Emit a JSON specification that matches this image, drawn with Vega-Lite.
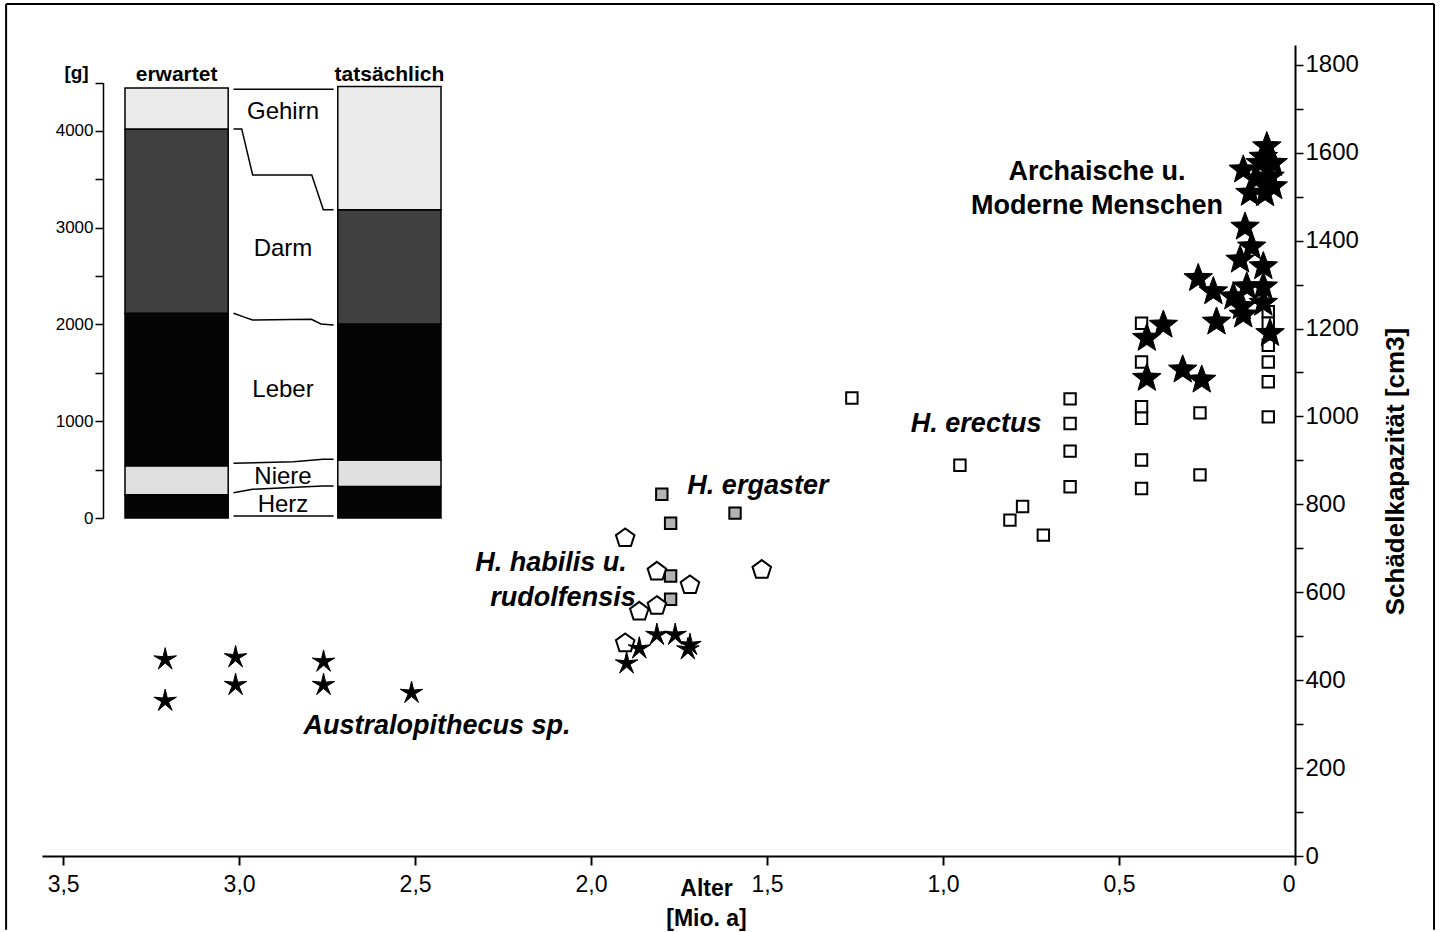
{
  "$schema": "https://vega.github.io/schema/vega-lite/v6.json",
  "width": 1253,
  "height": 811,
  "autosize": {"type": "none"},
  "padding": {"left": 42, "top": 45, "right": 146, "bottom": 76},
  "background": "white",
  "config": {
    "view": {"stroke": null},
    "font": "Liberation Sans",
    "axis": {"grid": false, "domainColor": "black", "tickColor": "black", "labelColor": "black", "titleColor": "black"},
    "text": {"color": "black"}
  },
  "datasets": {
    "punkte": [
      {"Gruppe": "H. erectus", "Alter": 1.259, "Kapazitaet": 1042},
      {"Gruppe": "H. erectus", "Alter": 0.952, "Kapazitaet": 889},
      {"Gruppe": "H. erectus", "Alter": 0.81, "Kapazitaet": 764},
      {"Gruppe": "H. erectus", "Alter": 0.774, "Kapazitaet": 795},
      {"Gruppe": "H. erectus", "Alter": 0.715, "Kapazitaet": 730},
      {"Gruppe": "H. erectus", "Alter": 0.639, "Kapazitaet": 1040},
      {"Gruppe": "H. erectus", "Alter": 0.639, "Kapazitaet": 984},
      {"Gruppe": "H. erectus", "Alter": 0.639, "Kapazitaet": 921},
      {"Gruppe": "H. erectus", "Alter": 0.639, "Kapazitaet": 840},
      {"Gruppe": "H. erectus", "Alter": 0.436, "Kapazitaet": 1212},
      {"Gruppe": "H. erectus", "Alter": 0.436, "Kapazitaet": 1124},
      {"Gruppe": "H. erectus", "Alter": 0.436, "Kapazitaet": 1022},
      {"Gruppe": "H. erectus", "Alter": 0.436, "Kapazitaet": 996},
      {"Gruppe": "H. erectus", "Alter": 0.436, "Kapazitaet": 901},
      {"Gruppe": "H. erectus", "Alter": 0.436, "Kapazitaet": 836},
      {"Gruppe": "H. erectus", "Alter": 0.27, "Kapazitaet": 1008},
      {"Gruppe": "H. erectus", "Alter": 0.27, "Kapazitaet": 867},
      {"Gruppe": "H. erectus", "Alter": 0.076, "Kapazitaet": 1238},
      {"Gruppe": "H. erectus", "Alter": 0.076, "Kapazitaet": 1212},
      {"Gruppe": "H. erectus", "Alter": 0.076, "Kapazitaet": 1162},
      {"Gruppe": "H. erectus", "Alter": 0.076, "Kapazitaet": 1124},
      {"Gruppe": "H. erectus", "Alter": 0.076, "Kapazitaet": 1079},
      {"Gruppe": "H. erectus", "Alter": 0.076, "Kapazitaet": 999},
      {"Gruppe": "H. ergaster", "Alter": 1.799, "Kapazitaet": 823},
      {"Gruppe": "H. ergaster", "Alter": 1.591, "Kapazitaet": 780},
      {"Gruppe": "H. ergaster", "Alter": 1.774, "Kapazitaet": 757},
      {"Gruppe": "H. ergaster", "Alter": 1.774, "Kapazitaet": 637},
      {"Gruppe": "H. ergaster", "Alter": 1.774, "Kapazitaet": 584},
      {"Gruppe": "H. habilis u. rudolfensis", "Alter": 1.903, "Kapazitaet": 723},
      {"Gruppe": "H. habilis u. rudolfensis", "Alter": 1.813, "Kapazitaet": 647},
      {"Gruppe": "H. habilis u. rudolfensis", "Alter": 1.719, "Kapazitaet": 616},
      {"Gruppe": "H. habilis u. rudolfensis", "Alter": 1.813, "Kapazitaet": 569},
      {"Gruppe": "H. habilis u. rudolfensis", "Alter": 1.863, "Kapazitaet": 556},
      {"Gruppe": "H. habilis u. rudolfensis", "Alter": 1.903, "Kapazitaet": 484},
      {"Gruppe": "H. habilis u. rudolfensis", "Alter": 1.515, "Kapazitaet": 651},
      {"Gruppe": "Australopithecus sp.", "Alter": 3.21, "Kapazitaet": 447},
      {"Gruppe": "Australopithecus sp.", "Alter": 3.21, "Kapazitaet": 353},
      {"Gruppe": "Australopithecus sp.", "Alter": 3.01, "Kapazitaet": 452},
      {"Gruppe": "Australopithecus sp.", "Alter": 3.01, "Kapazitaet": 389},
      {"Gruppe": "Australopithecus sp.", "Alter": 2.76, "Kapazitaet": 442},
      {"Gruppe": "Australopithecus sp.", "Alter": 2.76, "Kapazitaet": 389},
      {"Gruppe": "Australopithecus sp.", "Alter": 2.51, "Kapazitaet": 371},
      {"Gruppe": "Australopithecus sp.", "Alter": 1.899, "Kapazitaet": 438},
      {"Gruppe": "Australopithecus sp.", "Alter": 1.863, "Kapazitaet": 472},
      {"Gruppe": "Australopithecus sp.", "Alter": 1.813, "Kapazitaet": 503},
      {"Gruppe": "Australopithecus sp.", "Alter": 1.761, "Kapazitaet": 503},
      {"Gruppe": "Australopithecus sp.", "Alter": 1.719, "Kapazitaet": 480},
      {"Gruppe": "Australopithecus sp.", "Alter": 1.725, "Kapazitaet": 470},
      {"Gruppe": "Archaische u. Moderne Menschen", "Alter": 0.421, "Kapazitaet": 1178},
      {"Gruppe": "Archaische u. Moderne Menschen", "Alter": 0.374, "Kapazitaet": 1208},
      {"Gruppe": "Archaische u. Moderne Menschen", "Alter": 0.421, "Kapazitaet": 1087},
      {"Gruppe": "Archaische u. Moderne Menschen", "Alter": 0.319, "Kapazitaet": 1106},
      {"Gruppe": "Archaische u. Moderne Menschen", "Alter": 0.265, "Kapazitaet": 1083},
      {"Gruppe": "Archaische u. Moderne Menschen", "Alter": 0.223, "Kapazitaet": 1215},
      {"Gruppe": "Archaische u. Moderne Menschen", "Alter": 0.147, "Kapazitaet": 1231},
      {"Gruppe": "Archaische u. Moderne Menschen", "Alter": 0.071, "Kapazitaet": 1189},
      {"Gruppe": "Archaische u. Moderne Menschen", "Alter": 0.151, "Kapazitaet": 1250},
      {"Gruppe": "Archaische u. Moderne Menschen", "Alter": 0.09, "Kapazitaet": 1258},
      {"Gruppe": "Archaische u. Moderne Menschen", "Alter": 0.275, "Kapazitaet": 1314},
      {"Gruppe": "Archaische u. Moderne Menschen", "Alter": 0.232, "Kapazitaet": 1284},
      {"Gruppe": "Archaische u. Moderne Menschen", "Alter": 0.175, "Kapazitaet": 1272},
      {"Gruppe": "Archaische u. Moderne Menschen", "Alter": 0.137, "Kapazitaet": 1295},
      {"Gruppe": "Archaische u. Moderne Menschen", "Alter": 0.09, "Kapazitaet": 1295},
      {"Gruppe": "Archaische u. Moderne Menschen", "Alter": 0.142, "Kapazitaet": 1431},
      {"Gruppe": "Archaische u. Moderne Menschen", "Alter": 0.123, "Kapazitaet": 1386},
      {"Gruppe": "Archaische u. Moderne Menschen", "Alter": 0.156, "Kapazitaet": 1356},
      {"Gruppe": "Archaische u. Moderne Menschen", "Alter": 0.09, "Kapazitaet": 1341},
      {"Gruppe": "Archaische u. Moderne Menschen", "Alter": 0.08, "Kapazitaet": 1614},
      {"Gruppe": "Archaische u. Moderne Menschen", "Alter": 0.147, "Kapazitaet": 1561},
      {"Gruppe": "Archaische u. Moderne Menschen", "Alter": 0.099, "Kapazitaet": 1576},
      {"Gruppe": "Archaische u. Moderne Menschen", "Alter": 0.071, "Kapazitaet": 1545},
      {"Gruppe": "Archaische u. Moderne Menschen", "Alter": 0.085, "Kapazitaet": 1507},
      {"Gruppe": "Archaische u. Moderne Menschen", "Alter": 0.062, "Kapazitaet": 1523},
      {"Gruppe": "Archaische u. Moderne Menschen", "Alter": 0.128, "Kapazitaet": 1508},
      {"Gruppe": "Archaische u. Moderne Menschen", "Alter": 0.062, "Kapazitaet": 1576},
      {"Gruppe": "Archaische u. Moderne Menschen", "Alter": 0.11, "Kapazitaet": 1540},
      {"Gruppe": "Archaische u. Moderne Menschen", "Alter": 0.09, "Kapazitaet": 1590}
    ],
    "beschriftung_kursiv": [
      {"Text": "H. erectus", "Alter": 0.906, "Kapazitaet": 983},
      {"Text": "H. ergaster", "Alter": 1.526, "Kapazitaet": 842},
      {"Text": "H. habilis u.", "Alter": 2.114, "Kapazitaet": 667},
      {"Text": "rudolfensis", "Alter": 2.08, "Kapazitaet": 587},
      {"Text": "Australopithecus sp.", "Alter": 2.4375, "Kapazitaet": 296}
    ],
    "beschriftung_gerade": [
      {"Text": "Archaische u.", "Alter": 0.5625, "Kapazitaet": 1556},
      {"Text": "Moderne Menschen", "Alter": 0.5625, "Kapazitaet": 1479}
    ],
    "organe": [
      {"Balken": "erwartet", "Organ": "Herz", "Nr": 1, "g": 240},
      {"Balken": "erwartet", "Organ": "Niere", "Nr": 2, "g": 300},
      {"Balken": "erwartet", "Organ": "Leber", "Nr": 3, "g": 1575},
      {"Balken": "erwartet", "Organ": "Darm", "Nr": 4, "g": 1905},
      {"Balken": "erwartet", "Organ": "Gehirn", "Nr": 5, "g": 425},
      {"Balken": "tatsächlich", "Organ": "Herz", "Nr": 1, "g": 325},
      {"Balken": "tatsächlich", "Organ": "Niere", "Nr": 2, "g": 275},
      {"Balken": "tatsächlich", "Organ": "Leber", "Nr": 3, "g": 1405},
      {"Balken": "tatsächlich", "Organ": "Darm", "Nr": 4, "g": 1180},
      {"Balken": "tatsächlich", "Organ": "Gehirn", "Nr": 5, "g": 1275}
    ],
    "linien": [
      {"Linie": "oben", "Spalte": 1.03, "g": 4430},
      {"Linie": "oben", "Spalte": 1.98, "g": 4430},
      {"Linie": "Gehirn-Darm", "Spalte": 1.03, "g": 4021},
      {"Linie": "Gehirn-Darm", "Spalte": 1.108, "g": 4021},
      {"Linie": "Gehirn-Darm", "Spalte": 1.212, "g": 3545},
      {"Linie": "Gehirn-Darm", "Spalte": 1.773, "g": 3545},
      {"Linie": "Gehirn-Darm", "Spalte": 1.883, "g": 3185},
      {"Linie": "Gehirn-Darm", "Spalte": 1.98, "g": 3185},
      {"Linie": "Darm-Leber", "Spalte": 1.03, "g": 2116},
      {"Linie": "Darm-Leber", "Spalte": 1.12, "g": 2081},
      {"Linie": "Darm-Leber", "Spalte": 1.21, "g": 2047},
      {"Linie": "Darm-Leber", "Spalte": 1.77, "g": 2053},
      {"Linie": "Darm-Leber", "Spalte": 1.86, "g": 2005},
      {"Linie": "Darm-Leber", "Spalte": 1.98, "g": 1995},
      {"Linie": "Leber-Niere", "Spalte": 1.03, "g": 565},
      {"Linie": "Leber-Niere", "Spalte": 1.6, "g": 582},
      {"Linie": "Leber-Niere", "Spalte": 1.88, "g": 607},
      {"Linie": "Leber-Niere", "Spalte": 1.98, "g": 607},
      {"Linie": "Niere-Herz", "Spalte": 1.03, "g": 262},
      {"Linie": "Niere-Herz", "Spalte": 1.21, "g": 297},
      {"Linie": "Niere-Herz", "Spalte": 1.72, "g": 324},
      {"Linie": "Niere-Herz", "Spalte": 1.88, "g": 331},
      {"Linie": "Niere-Herz", "Spalte": 1.98, "g": 331},
      {"Linie": "unten", "Spalte": 1.03, "g": 20},
      {"Linie": "unten", "Spalte": 1.98, "g": 20}
    ],
    "organnamen": [
      {"Organ": "Gehirn", "g": 4196},
      {"Organ": "Darm", "g": 2780},
      {"Organ": "Leber", "g": 1323},
      {"Organ": "Niere", "g": 424},
      {"Organ": "Herz", "g": 134}
    ]
  },
  "layer": [
    {
      "layer": [
        {
          "data": {"values": [{}]},
          "mark": {"type": "rule", "color": "black", "strokeWidth": 2},
          "encoding": {
            "x": {"datum": 3.662, "type": "quantitative", "scale": {"domain": [0, 3.56], "reverse": true, "nice": false, "zero": false}},
            "y": {"datum": 1938, "type": "quantitative", "scale": {"domain": [0, 1845], "nice": false, "zero": false}},
            "y2": {"datum": -168}
          }
        },
        {
          "data": {"values": [{}]},
          "mark": {"type": "rule", "color": "black", "strokeWidth": 2},
          "encoding": {
            "x": {"datum": -0.395, "type": "quantitative"},
            "y": {"datum": 1938, "type": "quantitative"},
            "y2": {"datum": -168}
          }
        },
        {
          "data": {"values": [{}]},
          "mark": {"type": "rule", "color": "black", "strokeWidth": 2},
          "encoding": {
            "x": {"datum": 3.662, "type": "quantitative"},
            "x2": {"datum": -0.395},
            "y": {"datum": 1938, "type": "quantitative"}
          }
        },
        {
          "data": {"name": "punkte"},
          "transform": [{"filter": "datum.Gruppe == 'H. erectus'"}],
          "mark": {"type": "point", "shape": "square", "size": 130, "filled": true, "fill": "white", "stroke": "black", "strokeWidth": 2, "opacity": 1},
          "encoding": {
            "x": {
              "field": "Alter", "type": "quantitative",
              "scale": {"domain": [0, 3.56], "reverse": true, "nice": false, "zero": false},
              "axis": {
                "values": [0, 0.5, 1, 1.5, 2, 2.5, 3, 3.5],
                "labelExpr": "datum.value == 0 ? '0' : replace(format(datum.value, '.1f'), '.', ',')",
                "tickSize": 9, "tickWidth": 2, "domainWidth": 2,
                "labelFont": "Liberation Sans", "labelFontSize": 23, "labelPadding": 8,
                "title": ["Alter", "[Mio. a]"],
                "titleFont": "Liberation Sans", "titleFontSize": 23, "titleFontWeight": "bold",
                "titleX": 664, "titleY": 21, "titleAlign": "center", "titleBaseline": "top", "titleLineHeight": 30
              }
            },
            "y": {
              "field": "Kapazitaet", "type": "quantitative",
              "scale": {"domain": [0, 1845], "nice": false, "zero": false},
              "axis": {
                "orient": "right",
                "values": [0, 100, 200, 300, 400, 500, 600, 700, 800, 900, 1000, 1100, 1200, 1300, 1400, 1500, 1600, 1700, 1800],
                "labelExpr": "datum.value % 200 == 0 ? format(datum.value, 'd') : ''",
                "tickSize": 8, "tickWidth": 1.5, "domainWidth": 2,
                "labelFont": "Liberation Sans", "labelFontSize": 24, "labelPadding": 2,
                "title": "Schädelkapazität [cm3]",
                "titleFont": "Liberation Sans", "titleFontSize": 26, "titleFontWeight": "bold",
                "titleAngle": 270, "titleX": 100, "titleY": 426, "titleAlign": "center", "titleBaseline": "middle"
              }
            }
          }
        },
        {
          "data": {"name": "punkte"},
          "transform": [{"filter": "datum.Gruppe == 'H. ergaster'"}],
          "mark": {"type": "point", "shape": "square", "size": 130, "filled": true, "fill": "#b3b3b3", "stroke": "black", "strokeWidth": 2, "opacity": 1},
          "encoding": {
            "x": {"field": "Alter", "type": "quantitative"},
            "y": {"field": "Kapazitaet", "type": "quantitative"}
          }
        },
        {
          "data": {"name": "punkte"},
          "transform": [{"filter": "datum.Gruppe == 'H. habilis u. rudolfensis'"}],
          "mark": {"type": "point", "shape": "M0,-1L0.951,-0.309L0.588,0.809L-0.588,0.809L-0.951,-0.309Z", "size": 380, "filled": true, "fill": "white", "stroke": "black", "strokeWidth": 2, "opacity": 1},
          "encoding": {
            "x": {"field": "Alter", "type": "quantitative"},
            "y": {"field": "Kapazitaet", "type": "quantitative"}
          }
        },
        {
          "data": {"name": "punkte"},
          "transform": [{"filter": "datum.Gruppe == 'Australopithecus sp.'"}],
          "mark": {"type": "point", "shape": "M0,-1L0.176,-0.243L0.951,-0.309L0.285,0.093L0.588,0.809L0,0.3L-0.588,0.809L-0.285,0.093L-0.951,-0.309L-0.176,-0.243Z", "size": 560, "filled": true, "fill": "black", "stroke": "black", "strokeWidth": 1, "opacity": 1},
          "encoding": {
            "x": {"field": "Alter", "type": "quantitative"},
            "y": {"field": "Kapazitaet", "type": "quantitative"}
          }
        },
        {
          "data": {"name": "punkte"},
          "transform": [{"filter": "datum.Gruppe == 'Archaische u. Moderne Menschen'"}],
          "mark": {"type": "point", "shape": "M0,-1L0.247,-0.34L0.951,-0.309L0.399,0.13L0.588,0.809L0,0.42L-0.588,0.809L-0.399,0.13L-0.951,-0.309L-0.247,-0.34Z", "size": 900, "filled": true, "fill": "black", "stroke": "black", "strokeWidth": 1, "opacity": 1},
          "encoding": {
            "x": {"field": "Alter", "type": "quantitative"},
            "y": {"field": "Kapazitaet", "type": "quantitative"}
          }
        },
        {
          "data": {"name": "beschriftung_kursiv"},
          "mark": {"type": "text", "font": "Liberation Sans", "fontSize": 27, "fontWeight": "bold", "fontStyle": "italic", "align": "center", "baseline": "middle"},
          "encoding": {
            "x": {"field": "Alter", "type": "quantitative"},
            "y": {"field": "Kapazitaet", "type": "quantitative"},
            "text": {"field": "Text"}
          }
        },
        {
          "data": {"name": "beschriftung_gerade"},
          "mark": {"type": "text", "font": "Liberation Sans", "fontSize": 27, "fontWeight": "bold", "align": "center", "baseline": "middle"},
          "encoding": {
            "x": {"field": "Alter", "type": "quantitative"},
            "y": {"field": "Kapazitaet", "type": "quantitative"},
            "text": {"field": "Text"}
          }
        }
      ]
    },
    {
      "layer": [
        {
          "data": {"name": "organe"},
          "mark": {"type": "bar", "stroke": "black", "strokeWidth": 1.5},
          "encoding": {
            "x": {
              "field": "Balken", "type": "nominal",
              "scale": {"type": "band", "domain": ["erwartet", " ", "tatsächlich"], "range": [83, 399], "paddingInner": 0.03, "paddingOuter": 0},
              "axis": {"orient": "top", "title": null, "ticks": false, "tickSize": 0, "domain": false, "labelPadding": 0, "offset": -39, "labelFont": "Liberation Sans", "labelFontWeight": "bold", "labelFontSize": 21, "labelAngle": 0}
            },
            "y": {
              "field": "g", "type": "quantitative", "stack": "zero",
              "scale": {"domain": [0, 4500], "range": [473, 37.6], "nice": false, "zero": false},
              "axis": {
                "orient": "left", "offset": -61,
                "values": [0, 500, 1000, 1500, 2000, 2500, 3000, 3500, 4000, 4500],
                "labelExpr": "datum.value % 1000 == 0 ? format(datum.value, 'd') : ''",
                "tickSize": 8, "tickWidth": 1.5, "domainWidth": 1.5,
                "labelFont": "Liberation Sans", "labelFontSize": 17, "labelPadding": 2,
                "title": "[g]", "titleAngle": 0, "titleX": -27, "titleY": 27, "titleAlign": "center", "titleBaseline": "middle",
                "titleFont": "Liberation Sans", "titleFontWeight": "bold", "titleFontSize": 19
              }
            },
            "order": {"field": "Nr", "type": "quantitative"},
            "fill": {
              "field": "Organ", "type": "nominal",
              "scale": {"domain": ["Herz", "Niere", "Leber", "Darm", "Gehirn"], "range": ["#050505", "#e0e0e0", "#050505", "#404040", "#ebebeb"]},
              "legend": null
            }
          }
        },
        {
          "data": {"name": "linien"},
          "mark": {"type": "line", "color": "black", "strokeWidth": 1.5},
          "encoding": {
            "x": {"field": "Spalte", "type": "quantitative", "scale": {"domain": [0, 3], "range": [83, 399], "nice": false, "zero": false}, "axis": null},
            "y": {"field": "g", "type": "quantitative", "scale": {"domain": [0, 4500], "range": [473, 37.6], "nice": false, "zero": false}},
            "detail": {"field": "Linie"}
          }
        },
        {
          "data": {"name": "organnamen"},
          "mark": {"type": "text", "font": "Liberation Sans", "fontSize": 24, "align": "center", "baseline": "middle"},
          "encoding": {
            "x": {"datum": 1.5, "type": "quantitative", "scale": {"domain": [0, 3], "range": [83, 399], "nice": false, "zero": false}, "axis": null},
            "y": {"field": "g", "type": "quantitative", "scale": {"domain": [0, 4500], "range": [473, 37.6], "nice": false, "zero": false}},
            "text": {"field": "Organ"}
          }
        }
      ],
      "resolve": {"scale": {"x": "independent"}}
    }
  ],
  "resolve": {"scale": {"x": "independent", "y": "independent"}}
}
